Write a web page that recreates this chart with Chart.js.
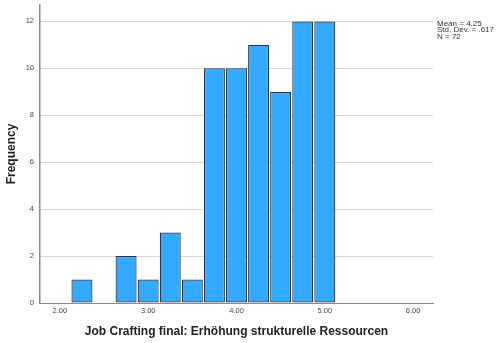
<!DOCTYPE html>
<html>
<head>
<meta charset="utf-8">
<script src="https://cdn.jsdelivr.net/npm/chart.js@4"></script>
<style>
html,body{margin:0;padding:0;background:#fff;}
#wrap{width:496px;height:343px;position:relative;}
</style>
</head>
<body>
<div id="wrap"><canvas id="c" width="496" height="343"></canvas></div>
<script>
// Bin centres (width 0.25) and frequencies
const binCenters = [2.25, 2.75, 3.00, 3.25, 3.50, 3.75, 4.00, 4.25, 4.50, 4.75, 5.00];
const frequencies = [1, 2, 1, 3, 1, 10, 10, 11, 9, 12, 12];
const xTickValues = [2, 3, 4, 5, 6];
const yTickValues = [0, 2, 4, 6, 8, 10, 12];
const statsLines = ["Mean = 4.25", "Std. Dev. = .617", "N = 72"];
const xTitle = "Job Crafting final: Erhöhung strukturelle Ressourcen";
const yTitle = "Frequency";

const points = binCenters.map((x, i) => ({x: x, y: frequencies[i]}));

const statsPlugin = {
  id: 'stats',
  afterDraw(chart) {
    const ctx = chart.ctx;
    const area = chart.chartArea;
    ctx.save();
    ctx.fillStyle = '#333';
    ctx.font = '8px "Liberation Sans", Arial, sans-serif';
    ctx.textAlign = 'left';
    ctx.textBaseline = 'middle';
    statsLines.forEach((t, i) => ctx.fillText(t, area.right + 4, 23.5 + i * 6.6));
    ctx.restore();
  }
};

new Chart(document.getElementById('c'), {
  type: 'bar',
  data: {
    datasets: [{
      data: points,
      backgroundColor: '#33aaff',
      borderColor: '#22374a',
      borderWidth: 1.2,
      borderSkipped: false,
      barPercentage: 0.95,
      categoryPercentage: 1.0
    }]
  },
  options: {
    responsive: false,
    animation: false,
    layout: {padding: {left: 0, right: 63, top: 5, bottom: 0}},
    plugins: {legend: {display: false}, tooltip: {enabled: false}},
    scales: {
      x: {
        type: 'linear',
        min: 1.775,
        max: 6.225,
        offset: false,
        afterBuildTicks(scale) { scale.ticks = xTickValues.map(v => ({value: v})); },
        afterFit(scale) { scale.height = 40; scale.paddingLeft = 0; scale.paddingRight = 0; },
        ticks: {
          callback: v => Number(v).toFixed(2),
          color: '#444',
          font: {size: 7.5, family: '"Liberation Sans", Arial, sans-serif'},
          padding: 3,
          maxRotation: 0
        },
        grid: {display: false, drawTicks: false},
        border: {display: true, color: '#8a8a8a', width: 1},
        title: {
          display: true,
          text: xTitle,
          color: '#222',
          font: {size: 12, weight: 'bold', family: '"Liberation Sans", Arial, sans-serif'},
          padding: {top: 6, bottom: 4}
        }
      },
      y: {
        min: 0,
        max: 12.7,
        afterBuildTicks(scale) { scale.ticks = yTickValues.map(v => ({value: v})); },
        afterFit(scale) { scale.width = 40; scale.paddingTop = 0; scale.paddingBottom = 0; },
        ticks: {
          color: '#444',
          font: {size: 7.5, family: '"Liberation Sans", Arial, sans-serif'},
          padding: 6
        },
        grid: {color: '#d8d8d8', lineWidth: 1, drawTicks: false},
        border: {display: true, color: '#8a8a8a', width: 1.5},
        title: {
          display: true,
          text: yTitle,
          color: '#222',
          font: {size: 12, weight: 'bold', family: '"Liberation Sans", Arial, sans-serif'},
          padding: {top: 4, bottom: 4}
        }
      }
    }
  },
  plugins: [statsPlugin]
});
</script>
</body>
</html>
